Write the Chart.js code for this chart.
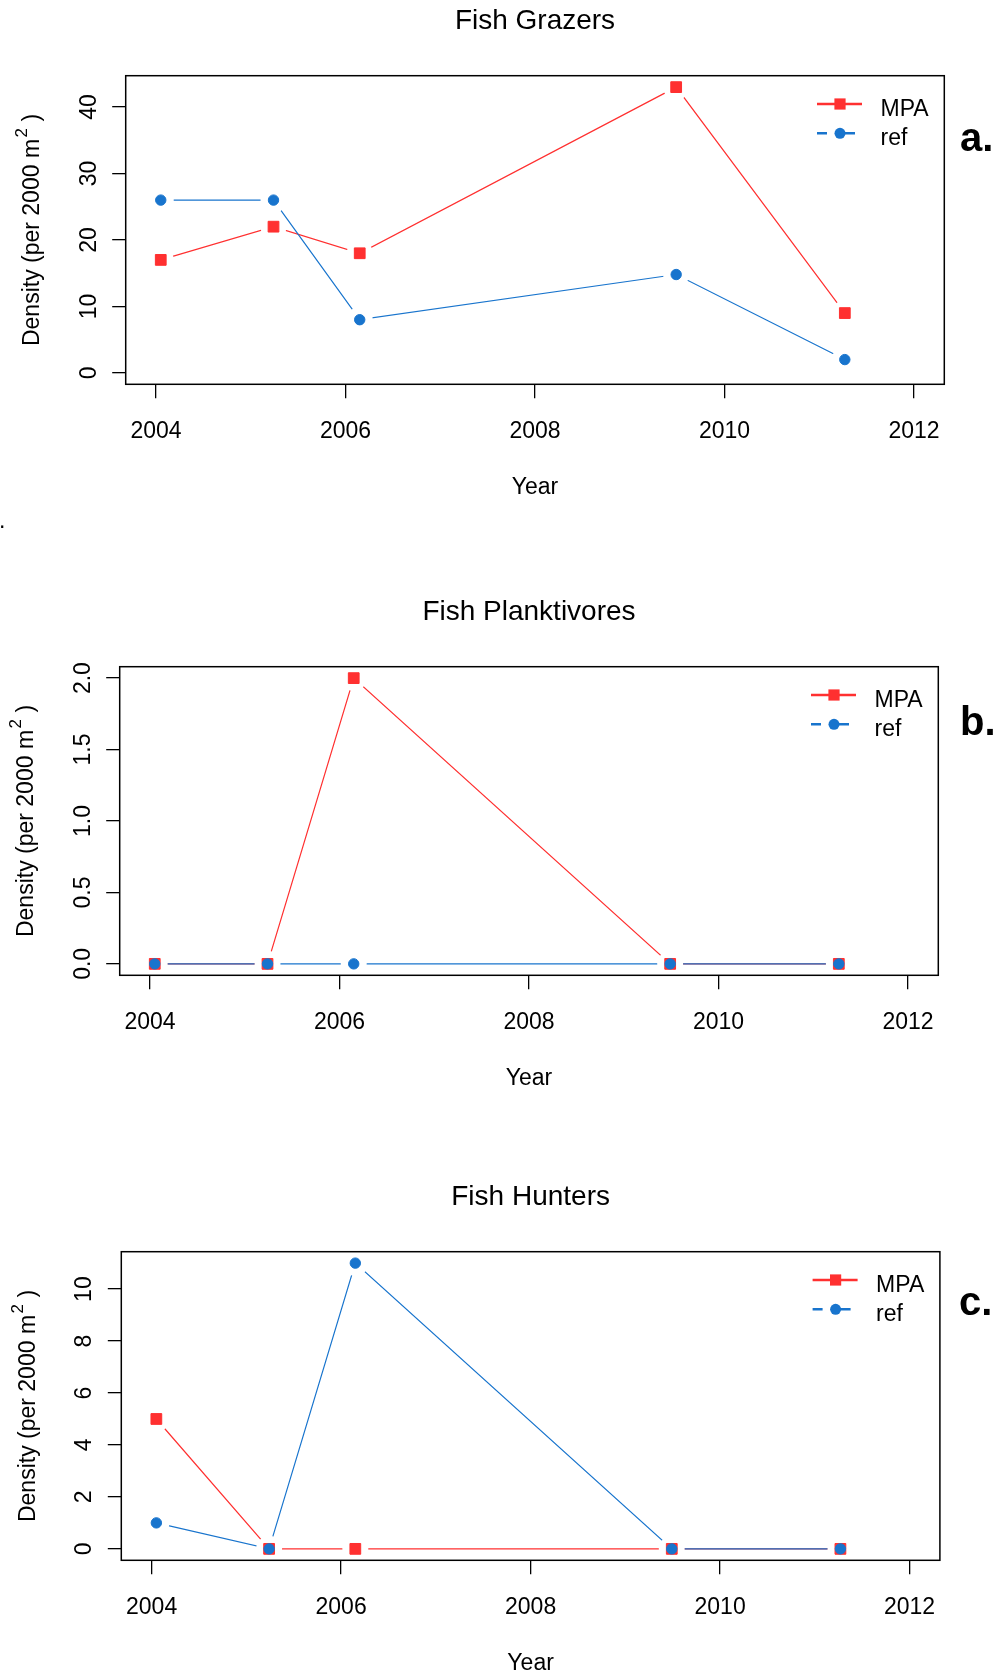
<!DOCTYPE html>
<html><head><meta charset="utf-8">
<script src="https://cdn.jsdelivr.net/npm/chart.js@4.4.1/dist/chart.umd.min.js"></script>
<style>
html,body{margin:0;padding:0;background:#fff;overflow:hidden;width:1000px;height:1679px;}
canvas{position:absolute;left:0;}
</style></head><body>
<canvas id="pa" width="1000" height="560" style="top:0px"></canvas>
<canvas id="pb" width="1000" height="503" style="top:591px"></canvas>
<canvas id="pc" width="1000" height="503" style="top:1176px"></canvas>
<script>
// ---------- data ----------
const years = [2004.05, 2005.24, 2006.15, 2009.49, 2011.27];
const seriesNames = ["MPA", "ref"];
const grazersMPA = [17, 22, 18, 43, 9];
const grazersRef = [26, 26, 8, 14.8, 2];
const planktMPA = [0, 0, 2, 0, 0];
const planktRef = [0, 0, 0, 0, 0];
const huntersMPA = [5, 0, 0, 0, 0];
const huntersRef = [1, 0, 11, 0, 0];
const xLimits = [2004, 2012];
const xTicks = [2004, 2006, 2008, 2010, 2012];
const xTickLabels = ["2004", "2006", "2008", "2010", "2012"];
const yTicksA = [0, 10, 20, 30, 40];
const yTickLabelsA = ["0", "10", "20", "30", "40"];
const yTicksB = [0, 0.5, 1, 1.5, 2];
const yTickLabelsB = ["0.0", "0.5", "1.0", "1.5", "2.0"];
const yTicksC = [0, 2, 4, 6, 8, 10];
const yTickLabelsC = ["0", "2", "4", "6", "8", "10"];
const panelTitles = ["Fish Grazers", "Fish Planktivores", "Fish Hunters"];
const panelLetters = ["a.", "b.", "c."];
const xTitle = "Year";
const yTitleMain = "Density (per 2000 m";
const yTitleSup = "2";
const yTitleTail = " )";

// ---------- style ----------
const FAM = "'Liberation Sans', Arial, Helvetica, sans-serif";
const RED = '#FF3030';
const BLUE = '#1874CD';
const GAP = 13;
Chart.defaults.font.family = FAM;
Chart.defaults.color = '#000';

function rExt(lo, hi) { const e = 0.04 * (hi - lo); return [lo - e, hi + e]; }
function pts(xs, ys) { return xs.map((x, i) => ({x: x, y: ys[i]})); }

const gapPlugin = {
  id: 'gaps',
  beforeDatasetDraw(chart, args) {
    const ds = chart.data.datasets[args.index];
    if (!ds.gapLine) return;
    const ctx = chart.ctx;
    ctx.save();
    ctx.beginPath();
    ctx.rect(0, 0, chart.width, chart.height);
    for (const el of args.meta.data) {
      ctx.moveTo(el.x + GAP, el.y);
      ctx.arc(el.x, el.y, GAP, 0, Math.PI * 2);
    }
    ctx.clip('evenodd');
  },
  afterDatasetDraw(chart, args) {
    const ds = chart.data.datasets[args.index];
    if (ds.gapLine) chart.ctx.restore();
  }
};

function makePanel(id, c) {
  const {L, R, T, B, H} = c;
  const mctx = document.createElement('canvas').getContext('2d');
  mctx.font = "23px " + FAM;
  const widest = Math.max(...c.yLabels.map(s => mctx.measureText(s).width));
  const yPad = 23 - widest / 2;
  const titleSize = 28, titleLH = titleSize * 1.2;
  const p1 = 21.5 - titleLH / 2;
  const p2 = T - p1 - titleLH;
  const xLH = 23 * 1.2;
  const xr = rExt(xLimits[0], xLimits[1]);
  const all = c.mpa.concat(c.ref);
  const yr = rExt(Math.min(0, ...all), Math.max(...all));

  const decor = {
    id: 'decor',
    afterDraw(chart) {
      const ctx = chart.ctx, a = chart.chartArea;
      ctx.save();
      ctx.strokeStyle = '#000'; ctx.lineWidth = 1.5;
      ctx.strokeRect(a.left, a.top, a.right - a.left, a.bottom - a.top);
      ctx.save();
      ctx.translate(a.left - 86.4, (a.top + a.bottom) / 2);
      ctx.rotate(-Math.PI / 2);
      ctx.fillStyle = '#000'; ctx.textAlign = 'left'; ctx.textBaseline = 'alphabetic';
      const f1 = "23px " + FAM, f2 = "17px " + FAM;
      ctx.font = f1; const w1 = ctx.measureText(yTitleMain).width; const w3 = ctx.measureText(yTitleTail).width;
      ctx.font = f2; const w2 = ctx.measureText(yTitleSup).width;
      let x = -(w1 + 1.5 + w2 + w3) / 2;
      ctx.font = f1; ctx.fillText(yTitleMain, x, 0); x += w1 + 1.5;
      ctx.font = f2; ctx.fillText(yTitleSup, x, -12.3); x += w2;
      ctx.font = f1; ctx.fillText(yTitleTail, x, 0);
      ctx.restore();
      const entries = [
        {label: seriesNames[0], color: RED, shape: 'rect', dash: [], dy: 28.3, ty: 40.3},
        {label: seriesNames[1], color: BLUE, shape: 'circle', dash: [10, 17, 11, 100], dy: 57.6, ty: 69.3}
      ];
      for (const e of entries) {
        const y = a.top + e.dy;
        ctx.strokeStyle = e.color; ctx.lineWidth = 2.5; ctx.setLineDash(e.dash);
        ctx.beginPath(); ctx.moveTo(a.right - 127.3, y); ctx.lineTo(a.right - 82.3, y); ctx.stroke();
        ctx.setLineDash([]);
        ctx.fillStyle = e.color;
        const mx = a.right - 104.3;
        if (e.shape === 'rect') { ctx.fillRect(mx - 5.6, y - 5.6, 11.2, 11.2); }
        else { ctx.beginPath(); ctx.arc(mx, y, 5.5, 0, Math.PI * 2); ctx.fill(); }
        ctx.fillStyle = '#000'; ctx.font = "23px " + FAM; ctx.textAlign = 'left'; ctx.textBaseline = 'alphabetic';
        ctx.fillText(e.label, a.right - 63.8, a.top + e.ty);
      }
      ctx.font = "bold 40px " + FAM; ctx.fillStyle = '#000';
      ctx.fillText(c.letter, c.letterX, c.letterY);
      if (c.dot) { ctx.font = "23px " + FAM; ctx.fillText('.', -1, 528); }
      ctx.restore();
    }
  };

  new Chart(document.getElementById(id), {
    type: 'line',
    data: {
      datasets: [
        {label: seriesNames[1], data: pts(years, c.ref), showLine: false, pointStyle: 'circle', pointRadius: 5.2,
         pointBorderWidth: 1, pointBackgroundColor: BLUE, pointBorderColor: BLUE, borderColor: BLUE, order: 0},
        {label: seriesNames[1] + ' line', data: pts(years, c.ref), pointRadius: 0, borderColor: BLUE,
         borderWidth: 1.2, tension: 0, fill: false, order: 1, gapLine: true},
        {label: seriesNames[0], data: pts(years, c.mpa), showLine: false, pointStyle: 'rect', pointRadius: 7.6,
         pointBorderWidth: 1, pointBackgroundColor: RED, pointBorderColor: RED, borderColor: RED, order: 2},
        {label: seriesNames[0] + ' line', data: pts(years, c.mpa), pointRadius: 0, borderColor: RED,
         borderWidth: 1.2, tension: 0, fill: false, order: 3, gapLine: true}
      ]
    },
    options: {
      responsive: false, animation: false, devicePixelRatio: 1, events: [],
      layout: {padding: {left: 0, right: 1000 - R, top: 0, bottom: 0}},
      plugins: {
        legend: {display: false}, tooltip: {enabled: false},
        title: {display: true, text: c.title, fullSize: false, color: '#000',
                font: {family: FAM, size: titleSize, weight: 'normal', lineHeight: 1.2},
                padding: {top: p1, bottom: p2}}
      },
      scales: {
        x: {
          type: 'linear', position: 'bottom', min: xr[0], max: xr[1],
          afterBuildTicks: s => { s.ticks = xTicks.map(v => ({value: v})); },
          afterFit: s => { s.height = H - B; },
          ticks: {callback: (v, i) => xTickLabels[i], font: {family: FAM, size: 23}, color: '#000',
                  padding: 19.9, maxRotation: 0, minRotation: 0, autoSkip: false},
          grid: {drawOnChartArea: false, drawTicks: true, tickLength: 14, color: '#000', lineWidth: 1.3},
          border: {display: false},
          title: {display: true, text: xTitle, color: '#000', font: {family: FAM, size: 23, lineHeight: 1.2},
                  padding: {top: 0, bottom: H - 488 - xLH / 2}}
        },
        y: {
          type: 'linear', position: 'left', min: yr[0], max: yr[1],
          afterBuildTicks: s => { s.ticks = c.yTicks.map(v => ({value: v})); },
          afterFit: s => { s.width = L; },
          ticks: {callback: (v, i) => c.yLabels[i], font: {family: FAM, size: 23}, color: '#000',
                  padding: yPad, minRotation: 90, maxRotation: 90, crossAlign: 'center', autoSkip: false},
          grid: {drawOnChartArea: false, drawTicks: true, tickLength: 13.5, color: '#000', lineWidth: 1.3},
          border: {display: false}
        }
      }
    },
    plugins: [gapPlugin, decor]
  });
}

makePanel('pa', {L: 125.7, R: 944.3, T: 75.7, B: 384.3, H: 560, mpa: grazersMPA, ref: grazersRef,
  yTicks: yTicksA, yLabels: yTickLabelsA, title: panelTitles[0], letter: panelLetters[0],
  letterX: 960, letterY: 151, dot: true});
makePanel('pb', {L: 119.7, R: 938.3, T: 75.7, B: 384.3, H: 503, mpa: planktMPA, ref: planktRef,
  yTicks: yTicksB, yLabels: yTickLabelsB, title: panelTitles[1], letter: panelLetters[1],
  letterX: 960, letterY: 143.5, dot: false});
makePanel('pc', {L: 121.3, R: 939.9, T: 75.7, B: 384.3, H: 503, mpa: huntersMPA, ref: huntersRef,
  yTicks: yTicksC, yLabels: yTickLabelsC, title: panelTitles[2], letter: panelLetters[2],
  letterX: 959, letterY: 138.5, dot: false});
</script>
</body></html>
